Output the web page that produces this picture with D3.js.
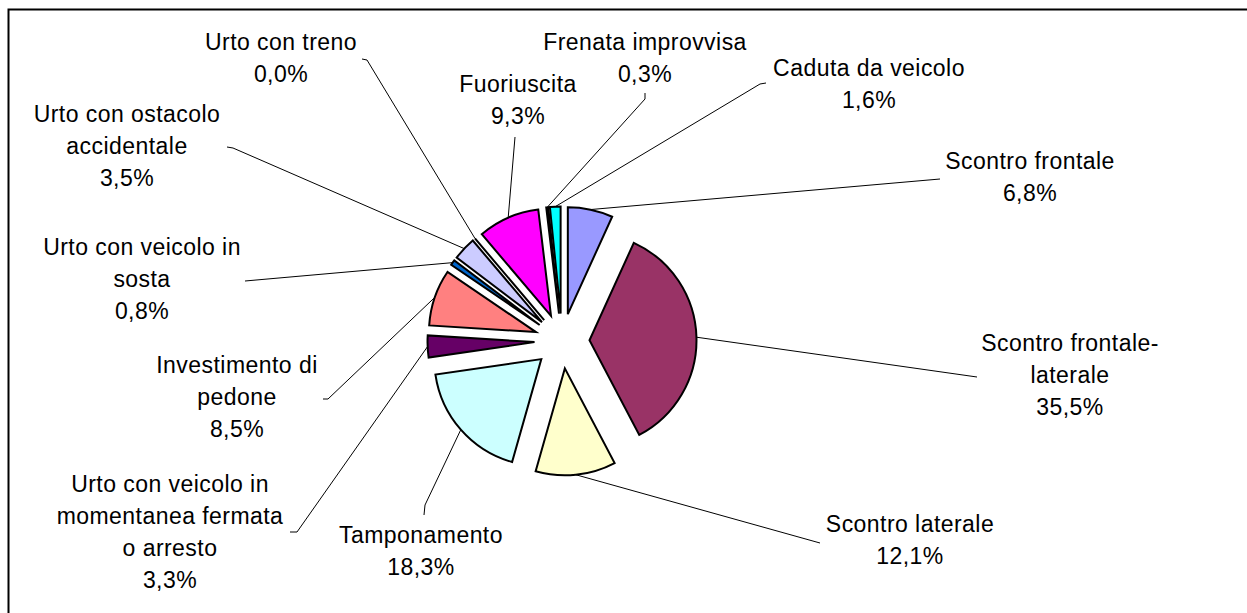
<!DOCTYPE html>
<html>
<head>
<meta charset="utf-8">
<script src="https://cdn.jsdelivr.net/npm/d3@7"></script>
<style>
  body { margin: 0; background: #fff; }
  svg { display: block; }
  text { font-family: "Liberation Sans", Arial, sans-serif; font-size: 23px; letter-spacing: 0.45px; fill: #000; }
</style>
</head>
<body>
<div id="container"></div>
<script>
/**
 * DATA
 * */
const categories = [
  "Scontro frontale",
  "Scontro frontale-laterale",
  "Scontro laterale",
  "Tamponamento",
  "Urto con veicolo in momentanea fermata o arresto",
  "Investimento di pedone",
  "Urto con veicolo in sosta",
  "Urto con ostacolo accidentale",
  "Urto con treno",
  "Fuoriuscita",
  "Frenata improvvisa",
  "Caduta da veicolo"
];

// percent share of each category
const values = [6.8, 35.5, 12.1, 18.3, 3.3, 8.5, 0.8, 3.5, 0.0, 9.3, 0.3, 1.6];

// label text as it wraps in the picture
const labelLines = [
  ["Scontro frontale"],
  ["Scontro frontale-", "laterale"],
  ["Scontro laterale"],
  ["Tamponamento"],
  ["Urto con veicolo in", "momentanea fermata", "o arresto"],
  ["Investimento di", "pedone"],
  ["Urto con veicolo in", "sosta"],
  ["Urto con ostacolo", "accidentale"],
  ["Urto con treno"],
  ["Fuoriuscita"],
  ["Frenata improvvisa"],
  ["Caduta da veicolo"]
];

const colors = ["#9999FF", "#993366", "#FFFFCC", "#CCFFFF", "#660066", "#FF8080",
                "#0066CC", "#CCCCFF", "#000080", "#FF00FF", "#FFFF00", "#00FFFF"];

/**
 * LAYOUT (label placement, leader line ends)
 * */
const width = 1247, height = 613;
const cx = 562, cy = 341, radius = 107, explode = 27.5;
const lineGap = 32;

// [center x, first baseline y]
const labelPos = [
  [1030, 169], [1070, 351], [910, 532], [421, 543],
  [170, 492], [237, 373], [142, 255], [127, 122],
  [281, 50], [518, 92], [645, 50], [869, 76]
];

// leader: label end point, then optional elbow
const leaderPts = [
  [[940, 179]],
  [[977, 377]],
  [[820, 543]],
  [[424, 515], [425, 505]],
  [[290, 532], [297, 532]],
  [[323, 399], [328, 399]],
  [[245, 281]],
  [[227, 147], [233, 148]],
  [[362, 59], [367, 60]],
  [[515, 137]],
  [[645, 93], [645, 99]],
  [[766, 83], [760, 84]]
];

const fmt = v => v.toFixed(1).replace(".", ",") + "%";

const data = categories.map((c, i) => ({ name: c, value: values[i], i }));

const svg = d3.select("#container").append("svg")
  .attr("width", width)
  .attr("height", height);

// chart area border (right and bottom fall outside the view)
svg.append("rect")
  .attr("x", 8.5).attr("y", 9.5)
  .attr("width", 1400).attr("height", 800)
  .attr("fill", "none")
  .attr("stroke", "#000")
  .attr("stroke-width", 2);

const pie = d3.pie().sort(null).value(d => d.value);
const arcs = pie(data);

const arcGen = d3.arc().innerRadius(0).outerRadius(radius);

const offset = a => {
  const m = (a.startAngle + a.endAngle) / 2;
  return [explode * Math.sin(m), -explode * Math.cos(m)];
};

// outer middle point of an exploded slice
const outerMid = a => {
  const m = (a.startAngle + a.endAngle) / 2;
  return [cx + (explode + radius) * Math.sin(m), cy - (explode + radius) * Math.cos(m)];
};

// leader lines
const lineGen = d3.line();
svg.append("g")
  .selectAll("path")
  .data(arcs)
  .join("path")
  .attr("d", a => lineGen([...leaderPts[a.index], outerMid(a)]))
  .attr("fill", "none")
  .attr("stroke", "#000")
  .attr("stroke-width", 1);

// slices
svg.append("g")
  .attr("transform", `translate(${cx},${cy})`)
  .selectAll("path")
  .data(arcs)
  .join("path")
  .attr("transform", a => `translate(${offset(a)})`)
  .attr("d", arcGen)
  .attr("fill", a => colors[a.index])
  .attr("stroke", "#000")
  .attr("stroke-width", 2)
  .attr("stroke-linejoin", "miter");

// labels
const labels = svg.append("g")
  .selectAll("text")
  .data(arcs)
  .join("text")
  .attr("text-anchor", "middle")
  .attr("x", a => labelPos[a.index][0])
  .attr("y", a => labelPos[a.index][1]);

labels.selectAll("tspan")
  .data(a => [...labelLines[a.index], fmt(a.data.value)].map((t, k) => ({ t, k, a })))
  .join("tspan")
  .attr("x", d => labelPos[d.a.index][0])
  .attr("y", d => labelPos[d.a.index][1] + d.k * lineGap)
  .text(d => d.t);
</script>
</body>
</html>
